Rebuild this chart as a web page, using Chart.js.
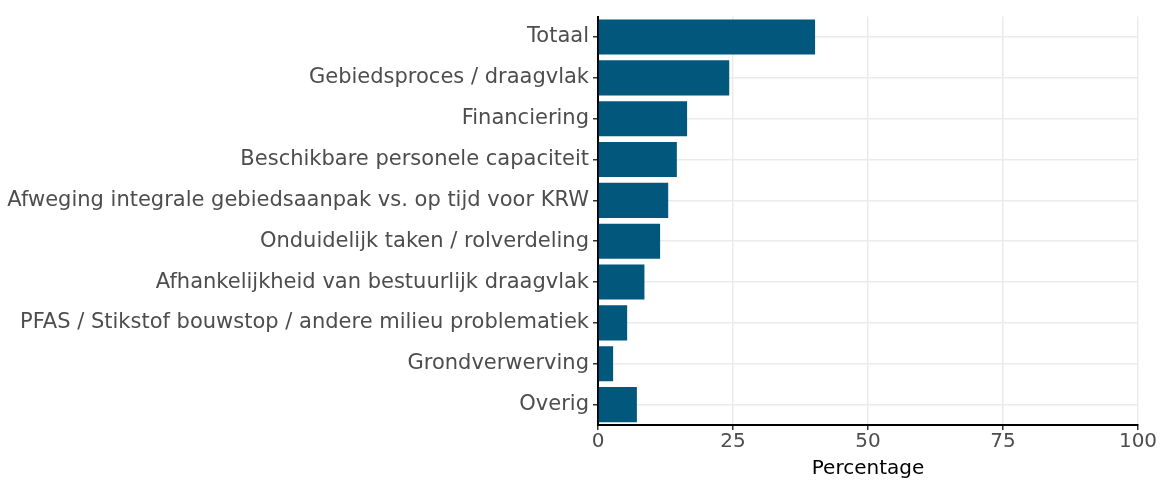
<!DOCTYPE html>
<html>
<head>
<meta charset="utf-8">
<script src="https://cdn.jsdelivr.net/npm/chart.js@4"></script>
<style>
  html, body { margin: 0; padding: 0; background: #fff; }
  #wrap { width: 1165px; height: 481px; }
</style>
</head>
<body>
<div id="wrap"><canvas id="myChart"></canvas></div>
<script>
const categories = [
  'Totaal',
  'Gebiedsproces / draagvlak',
  'Financiering',
  'Beschikbare personele capaciteit',
  'Afweging integrale gebiedsaanpak vs. op tijd voor KRW',
  'Onduidelijk taken / rolverdeling',
  'Afhankelijkheid van bestuurlijk draagvlak',
  'PFAS / Stikstof bouwstop / andere milieu problematiek',
  'Grondverwerving',
  'Overig'
];
const percentages = [40.2, 24.3, 16.5, 14.6, 13.0, 11.5, 8.6, 5.4, 2.8, 7.2];
const xTicks = [0, 25, 50, 75, 100];

document.addEventListener('DOMContentLoaded', function() {
  const ctx = document.getElementById('myChart').getContext('2d');
  Chart.defaults.font.family = '"DejaVu Sans", sans-serif';

  new Chart(ctx, {
    type: 'bar',
    data: {
      labels: categories,
      datasets: [{
        data: percentages,
        backgroundColor: '#02577d',
        barPercentage: 0.86,
        categoryPercentage: 1.0
      }]
    },
    options: {
      indexAxis: 'y',
      responsive: true,
      maintainAspectRatio: false,
      animation: false,
      layout: { padding: { top: 7, right: 27, bottom: 0, left: 0 } },
      plugins: {
        legend: { display: false },
        tooltip: { enabled: false }
      },
      scales: {
        x: {
          type: 'linear',
          min: 0,
          max: 100,
          afterBuildTicks: function(scale) {
            scale.ticks = xTicks.map(v => ({ value: v }));
          },
          afterFit: function(scale) { scale.height = 56; },
          border: { display: true, color: '#000', width: 2 },
          grid: {
            color: '#ebebeb',
            lineWidth: 1.5,
            tickColor: '#333',
            tickLength: 5
          },
          ticks: {
            color: '#4d4d4d',
            font: { size: 20 },
            padding: 0,
            maxRotation: 0
          },
          title: {
            display: true,
            text: 'Percentage',
            color: '#000',
            font: { size: 20 },
            padding: { top: 0, bottom: 0 }
          }
        },
        y: {
          afterFit: function(scale) { scale.width = 598; },
          border: { display: true, color: '#000', width: 2 },
          grid: {
            offset: false,
            color: '#ebebeb',
            lineWidth: 1.5,
            tickColor: '#333',
            tickLength: 5
          },
          ticks: {
            color: '#4d4d4d',
            font: { size: 21 },
            padding: 4,
            autoSkip: false
          }
        }
      }
    }
  });
});
</script>
</body>
</html>
